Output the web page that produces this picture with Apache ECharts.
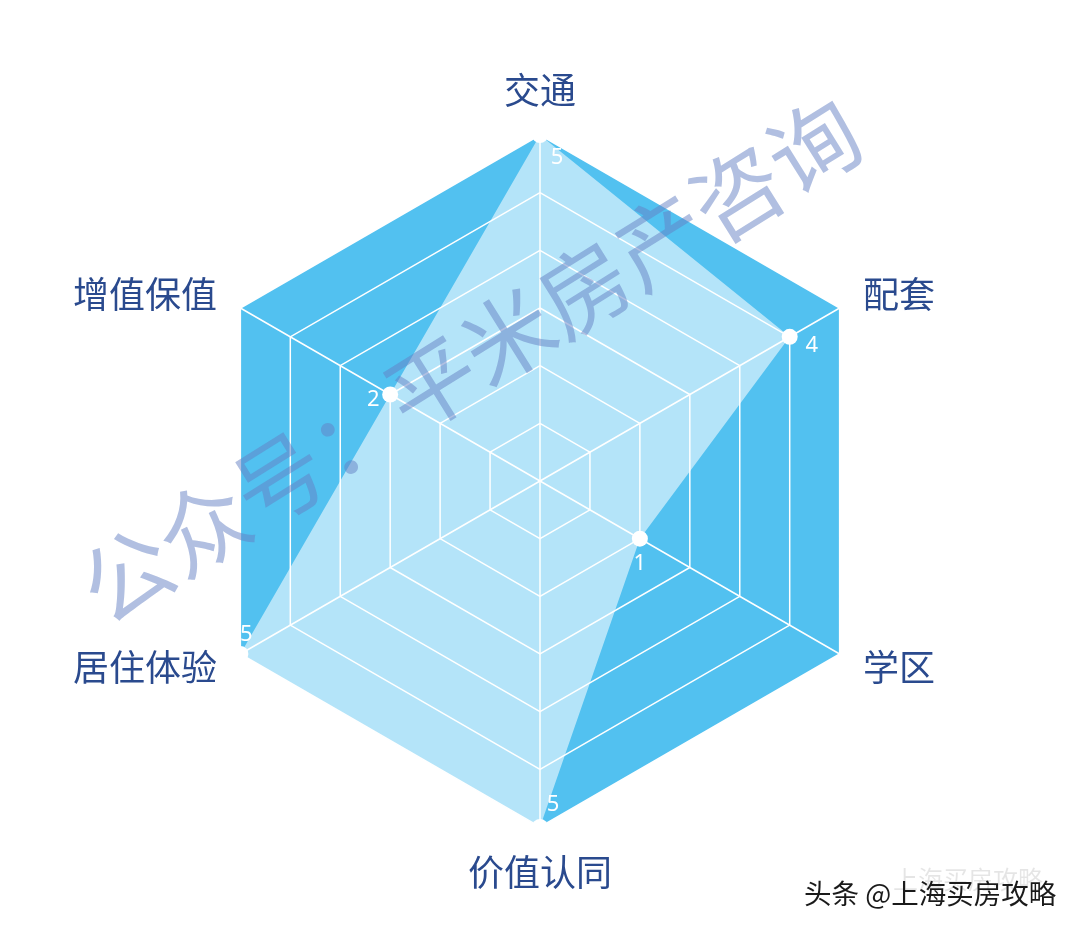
<!DOCTYPE html>
<html>
<head>
<meta charset="utf-8">
<script src="https://cdn.jsdelivr.net/npm/echarts@6/dist/echarts.min.js"></script>
<style>
html,body{margin:0;padding:0;background:#fff;}
#main{width:1080px;height:933px;}
</style>
</head>
<body>
<div id="main"></div>
<script>
// indicator names, counterclockwise from top
const indicatorNames = ['交通', '增值保值', '居住体验', '价值认同', '学区', '配套'];
const scores = [5, 2, 5, 5, 1, 4];
const axisMin = -1;
const axisMax = 5;
// label offsets per indicator (style only)
const labelOffsets = [[17, 23], [-17, 5], [6, -19], [13, -22], [0, 25], [22, 9]];

const chart = echarts.init(document.getElementById('main'));

const labelItems = indicatorNames.map((n, i) => ({
  value: scores,
  symbolSize: 0.01,
  lineStyle: { opacity: 0 },
  areaStyle: { opacity: 0 },
  itemStyle: { color: 'rgba(255,255,255,0)' },
  label: {
    show: true,
    position: 'inside',
    offset: labelOffsets[i],
    color: '#ffffff',
    fontSize: 22,
    fontFamily: 'Noto Sans',
    formatter: p => (p.dimensionIndex === i ? String(p.value) : '')
  }
}));

chart.setOption({
  animation: false,
  radar: {
    center: [540, 481],
    radius: 346,
    startAngle: 90,
    splitNumber: 6,
    shape: 'polygon',
    nameGap: 27,
    indicator: indicatorNames.map(n => ({ name: n, min: axisMin, max: axisMax })),
    axisName: {
      color: '#2a4a8e',
      fontSize: 36,
      fontFamily: 'Noto Sans CJK SC'
    },
    splitArea: { show: true, areaStyle: { color: ['#52c1f0'], opacity: 1 } },
    splitLine: { lineStyle: { color: '#ffffff', width: 1.5 } },
    axisLine: { lineStyle: { color: '#ffffff', width: 1.5 } }
  },
  series: [{
    type: 'radar',
    silent: true,
    data: [{
      value: scores,
      symbol: 'circle',
      symbolSize: 16,
      itemStyle: { color: '#ffffff' },
      lineStyle: { width: 0, opacity: 0 },
      areaStyle: { color: '#ffffff', opacity: 0.57 },
      label: { show: false }
    }].concat(labelItems)
  }],
  graphic: [
    {
      type: 'text',
      x: 470, y: 360,
      rotation: 32 * Math.PI / 180,
      z: 100,
      style: {
        text: '公众号：平米房产咨询',
        fontSize: 90,
        fontFamily: 'Noto Sans CJK SC',
        fill: 'rgba(100,128,195,0.5)',
        align: 'center',
        verticalAlign: 'middle'
      }
    },
    {
      type: 'text',
      x: 893, y: 879,
      z: 99,
      style: {
        text: '上海买房攻略',
        fontSize: 25,
        fontFamily: 'Noto Sans CJK SC',
        fill: 'rgba(0,0,0,0.1)',
        align: 'left',
        verticalAlign: 'middle'
      }
    },
    {
      type: 'text',
      x: 804, y: 894,
      z: 100,
      style: {
        text: '头条 @上海买房攻略',
        fontSize: 27.5,
        fontFamily: 'Noto Sans CJK SC',
        fill: '#1a1a1a',
        align: 'left',
        verticalAlign: 'middle'
      }
    }
  ]
});
</script>
</body>
</html>
